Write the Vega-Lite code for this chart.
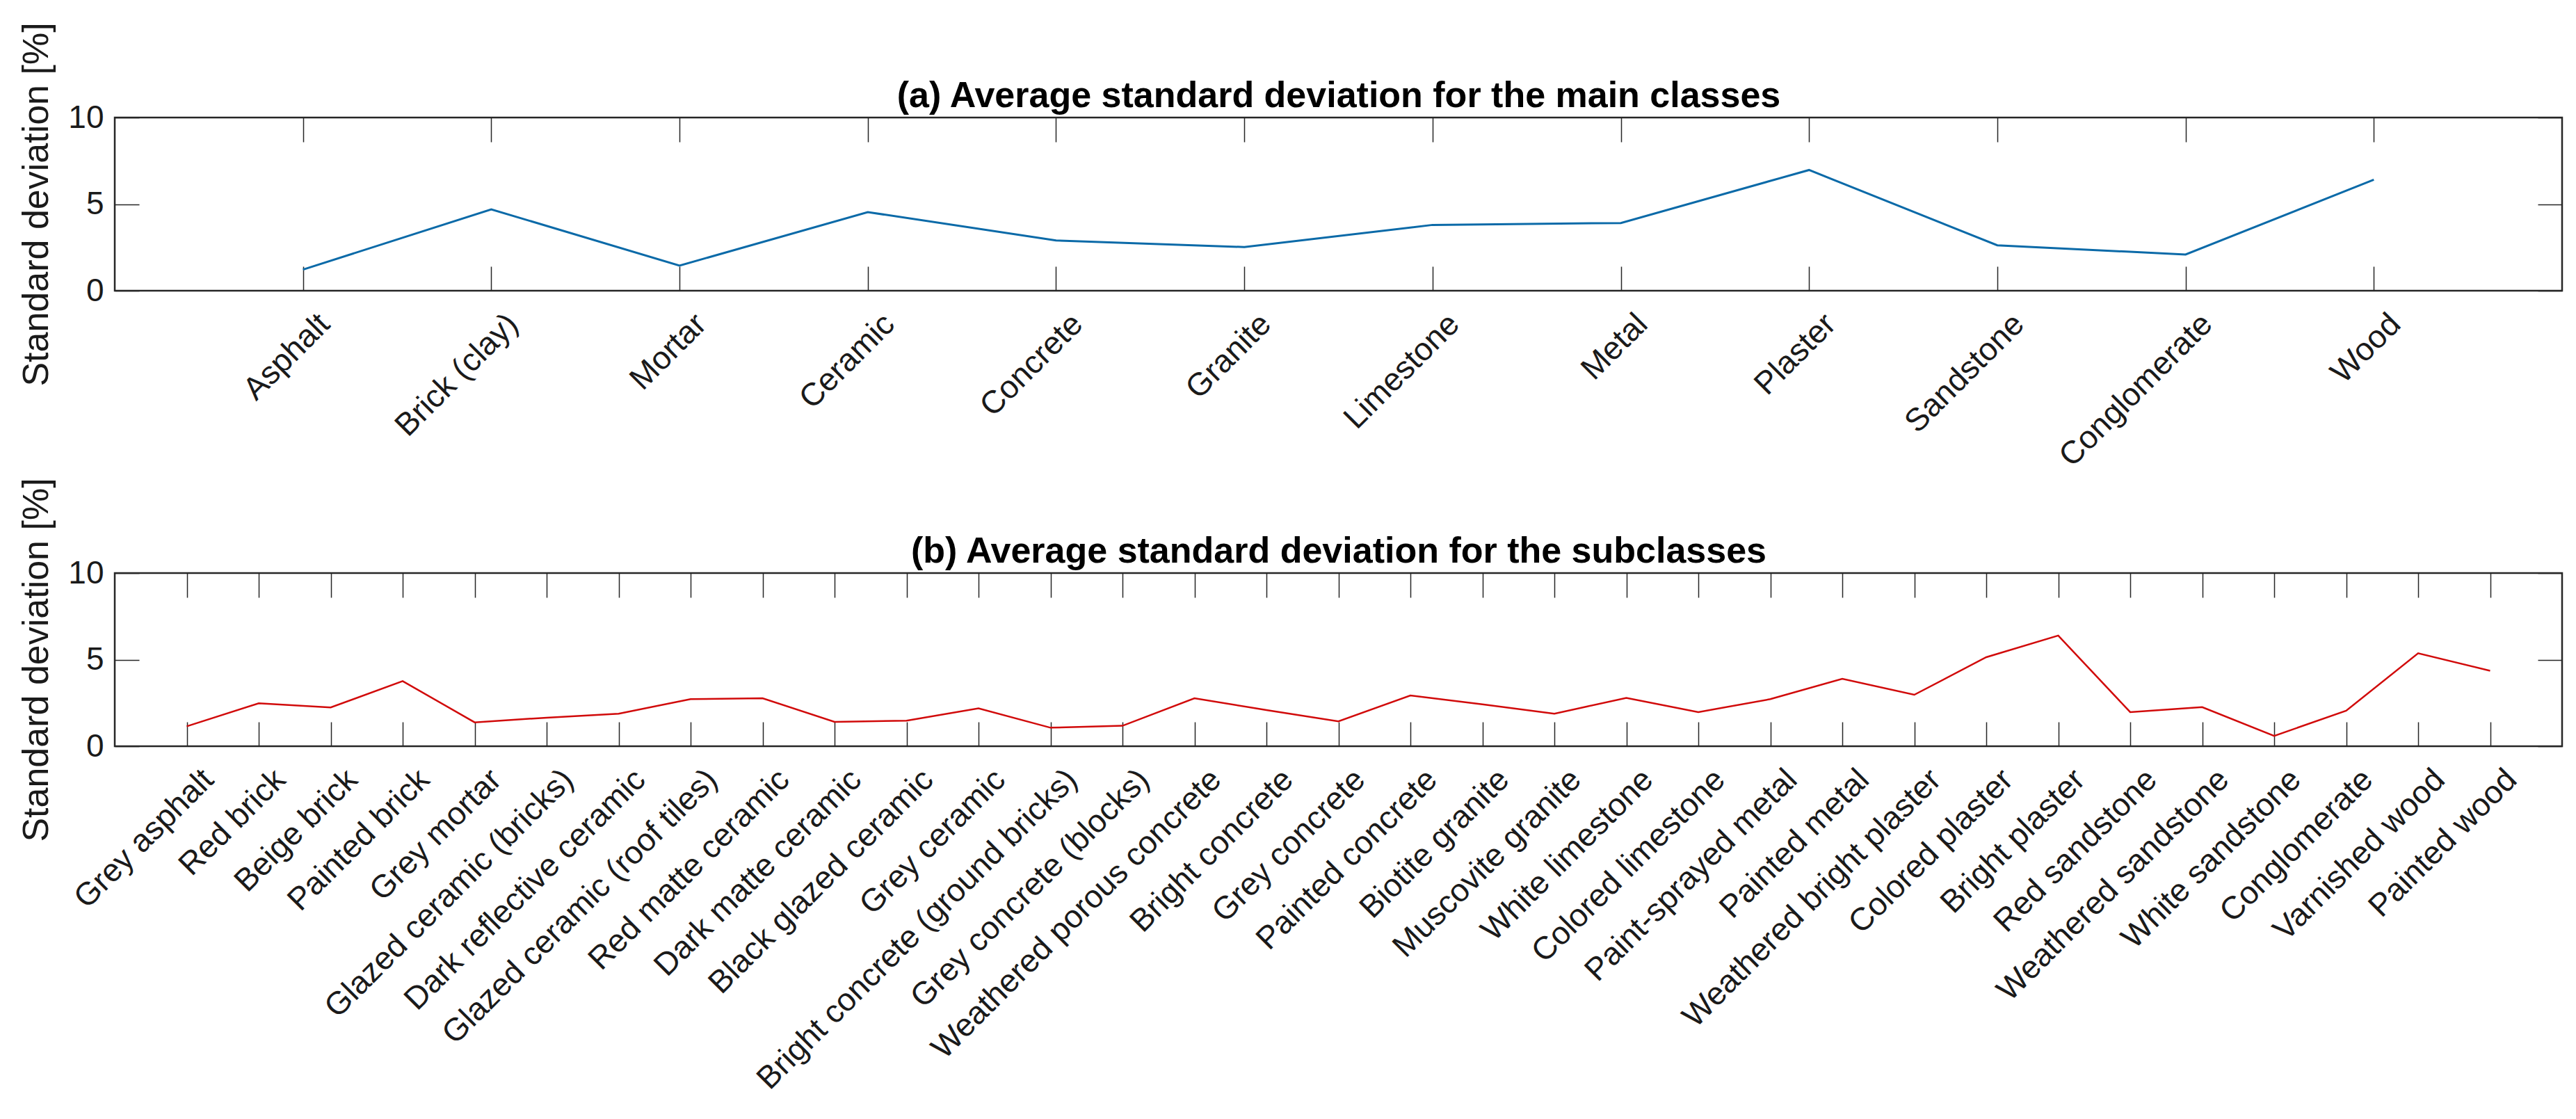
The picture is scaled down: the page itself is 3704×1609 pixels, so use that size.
{
  "$schema": "https://vega.github.io/schema/vega-lite/v6.json",
  "background": "white",
  "padding": {"top": 30, "left": 25, "right": 10, "bottom": 10},
  "spacing": 406,
  "bounds": "flush",
  "config": {
    "font": "Liberation Sans",
    "view": {"stroke": "#262626", "strokeWidth": 2.5},
    "axis": {
      "domain": false,
      "grid": false,
      "tickColor": "#262626",
      "tickWidth": 1.5,
      "labelColor": "#1a1a1a",
      "titleColor": "#1a1a1a",
      "labelFont": "Liberation Sans",
      "titleFont": "Liberation Sans",
      "labelLimit": 0
    }
  },
  "datasets": {
    "main": [
      {"cls": "Asphalt", "sd": 1.22},
      {"cls": "Brick (clay)", "sd": 4.70},
      {"cls": "Mortar", "sd": 1.45},
      {"cls": "Ceramic", "sd": 4.54},
      {"cls": "Concrete", "sd": 2.90},
      {"cls": "Granite", "sd": 2.52},
      {"cls": "Limestone", "sd": 3.80},
      {"cls": "Metal", "sd": 3.91},
      {"cls": "Plaster", "sd": 6.97},
      {"cls": "Sandstone", "sd": 2.62},
      {"cls": "Conglomerate", "sd": 2.09},
      {"cls": "Wood", "sd": 6.41}
    ],
    "sub": [
      {"cls": "Grey asphalt", "sd": 1.15},
      {"cls": "Red brick", "sd": 2.48},
      {"cls": "Beige brick", "sd": 2.24},
      {"cls": "Painted brick", "sd": 3.76},
      {"cls": "Grey mortar", "sd": 1.38},
      {"cls": "Glazed ceramic (bricks)", "sd": 1.65},
      {"cls": "Dark reflective ceramic", "sd": 1.88},
      {"cls": "Glazed ceramic (roof tiles)", "sd": 2.72},
      {"cls": "Red matte ceramic", "sd": 2.77},
      {"cls": "Dark matte ceramic", "sd": 1.41},
      {"cls": "Black glazed ceramic", "sd": 1.48},
      {"cls": "Grey ceramic", "sd": 2.19},
      {"cls": "Bright concrete (ground bricks)", "sd": 1.07},
      {"cls": "Grey concrete (blocks)", "sd": 1.18},
      {"cls": "Weathered porous concrete", "sd": 2.77},
      {"cls": "Bright concrete", "sd": 2.09},
      {"cls": "Grey concrete", "sd": 1.44},
      {"cls": "Painted concrete", "sd": 2.93},
      {"cls": "Biotite granite", "sd": 2.42},
      {"cls": "Muscovite granite", "sd": 1.88},
      {"cls": "White limestone", "sd": 2.79},
      {"cls": "Colored limestone", "sd": 1.97},
      {"cls": "Paint-sprayed metal", "sd": 2.72},
      {"cls": "Painted metal", "sd": 3.89},
      {"cls": "Weathered bright plaster", "sd": 2.97},
      {"cls": "Colored plaster", "sd": 5.14},
      {"cls": "Bright plaster", "sd": 6.39},
      {"cls": "Red sandstone", "sd": 1.97},
      {"cls": "Weathered sandstone", "sd": 2.26},
      {"cls": "White sandstone", "sd": 0.60},
      {"cls": "Conglomerate", "sd": 2.05},
      {"cls": "Varnished wood", "sd": 5.37},
      {"cls": "Painted wood", "sd": 4.36}
    ]
  },
  "vconcat": [
    {
      "width": 3519,
      "height": 249,
      "data": {"name": "main"},
      "resolve": {"axis": {"x": "independent", "y": "independent"}},
      "layer": [
        {
          "mark": {"type": "line", "color": "#0b6aa8", "strokeWidth": 3},
          "encoding": {
            "x": {"field": "cls", "type": "nominal", "sort": null,
              "scale": {"type": "point", "padding": 1},
              "axis": {"orient": "bottom", "title": null, "labelAngle": -45, "labelFontSize": 46,
                "tickSize": -35, "labelPadding": 60, "labelOffset": 15, "labelOverlap": false}},
            "y": {"field": "sd", "type": "quantitative",
              "scale": {"domain": [0, 10], "nice": false, "zero": true},
              "axis": {"orient": "left", "title": "Standard deviation [%]", "values": [0, 5, 10],
                "tickSize": -35, "labelFontSize": 46, "labelPadding": 51, "titleFontSize": 52,
                "titleFontWeight": "normal", "titlePadding": 18}}
          }
        },
        {
          "mark": {"type": "line", "strokeOpacity": 0},
          "encoding": {
            "x": {"field": "cls", "type": "nominal", "sort": null,
              "scale": {"type": "point", "padding": 1},
              "axis": {"orient": "top", "title": "(a) Average standard deviation for the main classes",
                "titleFontSize": 52, "titleFontWeight": "bold", "titleColor": "#000000", "titlePadding": 4,
                "labels": false, "tickSize": -35}},
            "y": {"field": "sd", "type": "quantitative",
              "scale": {"domain": [0, 10], "nice": false, "zero": true},
              "axis": {"orient": "right", "title": null, "labels": false, "values": [0, 5, 10], "tickSize": -35}}
          }
        }
      ]
    },
    {
      "width": 3519,
      "height": 249,
      "data": {"name": "sub"},
      "resolve": {"axis": {"x": "independent", "y": "independent"}},
      "layer": [
        {
          "mark": {"type": "line", "color": "#d10a0a", "strokeWidth": 2.5},
          "encoding": {
            "x": {"field": "cls", "type": "nominal", "sort": null,
              "scale": {"type": "point", "padding": 1},
              "axis": {"orient": "bottom", "title": null, "labelAngle": -45, "labelFontSize": 46,
                "tickSize": -35, "labelPadding": 60, "labelOffset": 15, "labelOverlap": false}},
            "y": {"field": "sd", "type": "quantitative",
              "scale": {"domain": [0, 10], "nice": false, "zero": true},
              "axis": {"orient": "left", "title": "Standard deviation [%]", "values": [0, 5, 10],
                "tickSize": -35, "labelFontSize": 46, "labelPadding": 51, "titleFontSize": 52,
                "titleFontWeight": "normal", "titlePadding": 18}}
          }
        },
        {
          "mark": {"type": "line", "strokeOpacity": 0},
          "encoding": {
            "x": {"field": "cls", "type": "nominal", "sort": null,
              "scale": {"type": "point", "padding": 1},
              "axis": {"orient": "top", "title": "(b) Average standard deviation for the subclasses",
                "titleFontSize": 52, "titleFontWeight": "bold", "titleColor": "#000000", "titlePadding": 4,
                "labels": false, "tickSize": -35}},
            "y": {"field": "sd", "type": "quantitative",
              "scale": {"domain": [0, 10], "nice": false, "zero": true},
              "axis": {"orient": "right", "title": null, "labels": false, "values": [0, 5, 10], "tickSize": -35}}
          }
        }
      ]
    }
  ]
}
